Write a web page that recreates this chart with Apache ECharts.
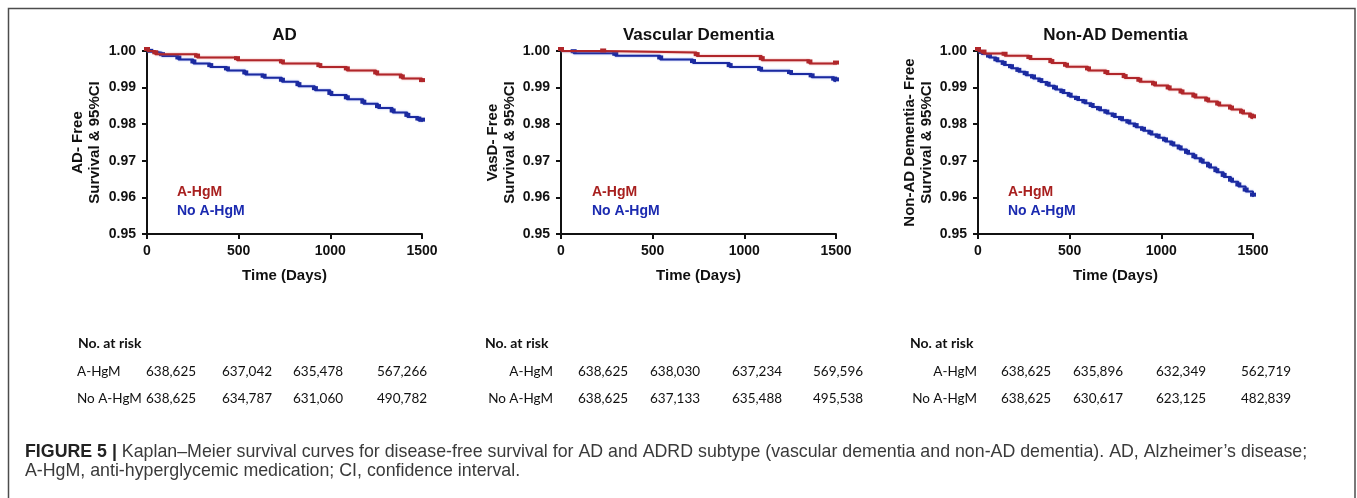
<!DOCTYPE html>
<html><head><meta charset="utf-8">
<script src="https://cdn.jsdelivr.net/npm/echarts/dist/echarts.min.js"></script>
<style>html,body{margin:0;padding:0;background:#fff}#c{width:1357px;height:498px}</style>
</head><body><div id="c"></div><script>
// ---------- data ----------
const panelTitles = ['AD', 'Vascular Dementia', 'Non-AD Dementia'];
const yAxisNames = ['AD- Free\nSurvival & 95%CI', 'VasD- Free\nSurvival & 95%CI', 'Non-AD Dementia- Free\nSurvival & 95%CI'];
const xAxisName = 'Time (Days)';
const groupNames = ['A-HgM', 'No A-HgM'];

// AD panel
const adAHgmDays = [0, 45, 273, 491, 736, 940, 1090, 1250, 1390, 1500];
const adAHgmSurv = [1.0, 0.9991, 0.9982, 0.9975, 0.9966, 0.9956, 0.9947, 0.9936, 0.9925, 0.9915];
const adNoDays = [0, 18, 82, 171, 253, 345, 436, 536, 636, 736, 826, 916, 1000, 1090, 1180, 1260, 1340, 1420, 1480, 1500];
const adNoSurv = [1.0, 0.9995, 0.9986, 0.9977, 0.9966, 0.9956, 0.9947, 0.9936, 0.9927, 0.9916, 0.9904, 0.9893, 0.9880, 0.9868, 0.9856, 0.9844, 0.9832, 0.9820, 0.9810, 0.9807];

// Vascular dementia panel
const vdAHgmDays = [0, 230, 740, 1095, 1355, 1500];
const vdAHgmSurv = [1.0, 0.9996, 0.9986, 0.9975, 0.9966, 0.9963];
const vdNoDays = [0, 69, 296, 541, 720, 920, 1086, 1249, 1367, 1490, 1500];
const vdNoSurv = [1.0, 0.9994, 0.9987, 0.9977, 0.9967, 0.9956, 0.9946, 0.9937, 0.9928, 0.9919, 0.9917];

// Non-AD dementia panel
const naAHgmDays = [0, 30, 145, 280, 400, 480, 600, 700, 800, 880, 960, 1040, 1110, 1180, 1250, 1310, 1380, 1440, 1490, 1500];
const naAHgmSurv = [1.0, 0.9993, 0.9987, 0.9978, 0.9967, 0.9957, 0.9947, 0.9937, 0.9926, 0.9916, 0.9906, 0.9895, 0.9884, 0.9873, 0.9862, 0.9851, 0.9840, 0.9829, 0.9818, 0.9816];
const naNoDays = [0, 20, 60, 100, 140, 180, 220, 260, 300, 340, 380, 420, 460, 500, 540, 580, 620, 660, 700, 740, 780, 820, 860, 900, 940, 980, 1020, 1060, 1100, 1140, 1180, 1220, 1260, 1300, 1340, 1380, 1420, 1460, 1500];
const naNoSurv = [1.0, 0.9992, 0.9982, 0.9972, 0.9962, 0.9953, 0.9943, 0.9934, 0.9925, 0.9915, 0.9905, 0.9895, 0.9885, 0.9875, 0.9866, 0.9857, 0.9847, 0.9838, 0.9829, 0.9820, 0.9811, 0.9802, 0.9792, 0.9782, 0.9772, 0.9763, 0.9753, 0.9742, 0.9731, 0.9719, 0.9707, 0.9695, 0.9682, 0.9669, 0.9656, 0.9643, 0.9630, 0.9616, 0.9602];

// axes
const xMin = 0, xMax = 1500, xStep = 500;
const yMin = 0.95, yMax = 1.0, yStep = 0.01;

// numbers at risk
const riskHeader = 'No. at risk';
const riskAD_AHgm = ['638,625', '637,042', '635,478', '567,266'];
const riskAD_No = ['638,625', '634,787', '631,060', '490,782'];
const riskVD_AHgm = ['638,625', '638,030', '637,234', '569,596'];
const riskVD_No = ['638,625', '637,133', '635,488', '495,538'];
const riskNA_AHgm = ['638,625', '635,896', '632,349', '562,719'];
const riskNA_No = ['638,625', '630,617', '623,125', '482,839'];

const captionLead = 'FIGURE 5 |';
const captionLine1 = ' Kaplan–Meier survival curves for disease-free survival for AD and ADRD subtype (vascular dementia and non-AD dementia). AD, Alzheimer’s disease;';
const captionLine2 = 'A-HgM, anti-hyperglycemic medication; CI, confidence interval.';

// ---------- layout / style ----------
const RED = '#B0262A', BLUE = '#1B2AA0';
const RED_TXT = '#A8201F', BLUE_TXT = '#1B2AB0';
const layout = {
  gridLeft: [147, 561, 978], gridTop: 51, gridW: 275, gridH: 183,
  nameGap: [44, 38, 43],
  legendLeft: [172, 587, 1003], legendTop: 180,
  table: {
    headerX: [78, 485, 910], labelX: [77, 553, 977], labelAlign: ['left', 'right', 'right'],
    colX: [[146, 222, 293, 377], [578, 650, 732, 813], [1001, 1073, 1156, 1241]],
    yHeader: 343, yRow1: 372, yRow2: 399
  }
};
const AXF = 'Liberation Sans, Arial, sans-serif';
const TBF = 'Lato, Open Sans, sans-serif';

const panels = [
  { a: [adAHgmDays, adAHgmSurv], n: [adNoDays, adNoSurv], ra: riskAD_AHgm, rn: riskAD_No },
  { a: [vdAHgmDays, vdAHgmSurv], n: [vdNoDays, vdNoSurv], ra: riskVD_AHgm, rn: riskVD_No },
  { a: [naAHgmDays, naAHgmSurv], n: [naNoDays, naNoSurv], ra: riskNA_AHgm, rn: riskNA_No }
];
const zip = (xs, ys) => xs.map((x, i) => [x, ys[i]]);

const grid = [], xAxis = [], yAxis = [], series = [], legend = [], graphic = [];
panels.forEach((p, i) => {
  grid.push({ left: layout.gridLeft[i], top: layout.gridTop, width: layout.gridW, height: layout.gridH, containLabel: false });
  xAxis.push({
    gridIndex: i, type: 'value', min: xMin, max: xMax, interval: xStep,
    name: xAxisName, nameLocation: 'middle', nameGap: 34,
    nameTextStyle: { fontFamily: AXF, fontWeight: 'bold', fontSize: 15, color: '#111' },
    axisLine: { show: true, onZero: false, lineStyle: { color: '#111', width: 2 } },
    axisTick: { show: true, length: 5, lineStyle: { color: '#111', width: 2 } },
    axisLabel: { margin: 10, fontFamily: AXF, fontWeight: 'bold', fontSize: 14, color: '#111', formatter: v => String(v) },
    splitLine: { show: false }
  });
  yAxis.push({
    gridIndex: i, type: 'value', min: yMin, max: yMax, interval: yStep,
    name: yAxisNames[i], nameLocation: 'middle', nameGap: layout.nameGap[i], nameRotate: 90,
    nameTextStyle: { fontFamily: AXF, fontWeight: 'bold', fontSize: 15, lineHeight: 17, color: '#111', align: 'center' },
    axisLine: { show: true, onZero: false, lineStyle: { color: '#111', width: 2 } },
    axisTick: { show: true, length: 5, lineStyle: { color: '#111', width: 2 } },
    axisLabel: { margin: 11, fontFamily: AXF, fontWeight: 'bold', fontSize: 14, color: '#111', formatter: v => v.toFixed(2) },
    splitLine: { show: false }
  });
  [[p.a, RED, 'rgba(225,120,120,0.8)', groupNames[0]], [p.n, BLUE, 'rgba(120,140,235,0.8)', groupNames[1]]].forEach(([d, col, sh, nm]) => {
    series.push({
      name: nm, type: 'line', xAxisIndex: i, yAxisIndex: i, step: 'end',
      data: zip(d[0], d[1]),
      showSymbol: true, showAllSymbol: true, symbol: 'rect', symbolSize: [6, 4], symbolOffset: [0, -2],
      itemStyle: { color: col },
      lineStyle: { color: col, width: 2, shadowColor: sh, shadowBlur: 2 },
      animation: false, silent: true, z: nm === groupNames[0] ? 3 : 2
    });
  });
  legend.push({
    left: layout.legendLeft[i] - 5, top: layout.legendTop, orient: 'vertical', icon: 'none',
    itemWidth: 0, itemHeight: 10, itemGap: 5, selectedMode: false,
    textStyle: { fontFamily: AXF, fontWeight: 'bold', fontSize: 14 },
    data: [{ name: groupNames[0], textStyle: { color: RED_TXT } }, { name: groupNames[1], textStyle: { color: BLUE_TXT } }]
  });
  // title
  graphic.push({ type: 'text', x: layout.gridLeft[i] + layout.gridW / 2, y: 35, silent: true,
    style: { text: panelTitles[i], fill: '#111', font: 'bold 17px ' + AXF, textAlign: 'center', textVerticalAlign: 'middle' } });
  // risk table
  const T = layout.table;
  graphic.push({ type: 'text', x: T.headerX[i], y: T.yHeader, silent: true,
    style: { text: riskHeader, fill: '#111', font: 'bold 14px ' + TBF, textAlign: 'left', textVerticalAlign: 'middle' } });
  [[T.yRow1, groupNames[0], p.ra], [T.yRow2, groupNames[1], p.rn]].forEach(([yy, lab, vals]) => {
    graphic.push({ type: 'text', x: T.labelX[i], y: yy, silent: true,
      style: { text: lab, fill: '#111', font: '13.5px ' + TBF, textAlign: T.labelAlign[i], textVerticalAlign: 'middle' } });
    vals.forEach((v, k) => graphic.push({ type: 'text', x: T.colX[i][k], y: yy, silent: true,
      style: { text: v, fill: '#111', font: '13.5px ' + TBF, textAlign: 'left', textVerticalAlign: 'middle' } }));
  });
});

// frame
graphic.push({ type: 'rect', silent: true, z: -10, shape: { x: 8.5, y: 8.5, width: 1346.5, height: 540 },
  style: { fill: 'none', stroke: '#4d4d4d', lineWidth: 1.5 } });
// caption
graphic.push({ type: 'text', x: 25, y: 443, silent: true, style: {
  text: '{b|' + captionLead + '}{n|' + captionLine1 + '}\n{n|' + captionLine2 + '}',
  rich: {
    b: { font: 'bold 17.8px ' + AXF, fill: '#222', lineHeight: 18.5 },
    n: { font: '17.8px ' + AXF, fill: '#3a3a3a', lineHeight: 18.5 }
  }, textAlign: 'left', textVerticalAlign: 'top' } });

const chart = echarts.init(document.getElementById('c'), null, { renderer: 'canvas' });
chart.setOption({ animation: false, backgroundColor: '#fff', grid, xAxis, yAxis, series, legend, graphic });
</script></body></html>
